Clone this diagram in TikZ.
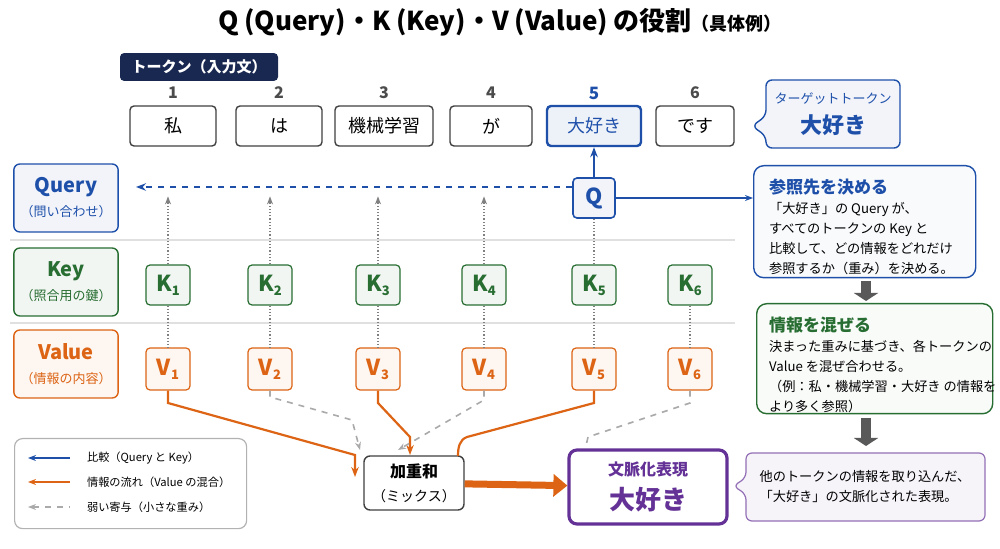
\documentclass[tikz,border=0pt]{standalone}
\usepackage{fontspec}
\setmainfont{Noto Sans CJK JP}
\usetikzlibrary{positioning,arrows.meta}
\definecolor{qblue}{RGB}{30,80,170}
\definecolor{kgreen}{RGB}{40,110,50}
\definecolor{vorange}{RGB}{220,100,20}
\definecolor{cpurple}{RGB}{100,50,150}
\definecolor{navy}{RGB}{25,40,80}
\definecolor{wgray}{RGB}{170,170,170}
\newcommand{\subn}[1]{\raisebox{-0.35ex}{\fontsize{6.5}{7}\selectfont #1}}
\tikzset{
  tok/.style={draw=black!75,line width=0.7pt,rounded corners=2pt,minimum height=20pt,font=\fontsize{9}{10}\selectfont,fill=white},
  lab/.style={rounded corners=3pt,line width=0.7pt,minimum width=52pt,minimum height=34pt,align=center},
  kbox/.style={draw=kgreen,fill=kgreen!6,rounded corners=2pt,line width=0.6pt,minimum width=22pt,minimum height=20pt,text=kgreen,font=\fontsize{11}{12}\selectfont\bfseries},
  vbox/.style={draw=vorange,fill=vorange!6,rounded corners=2pt,line width=0.6pt,minimum width=22pt,minimum height=21pt,text=vorange,font=\fontsize{11}{12}\selectfont\bfseries},
  dotl/.style={densely dotted,gray,line width=0.6pt},
  weak/.style={dashed,wgray,line width=0.8pt},
  flow/.style={vorange,line width=1.1pt},
  cmp/.style={qblue,line width=0.8pt},
  body/.style={align=left,font=\fontsize{6.6}{10}\selectfont,anchor=north west}
}
\begin{document}
\begin{tikzpicture}[x=0.5pt,y=-0.5pt]
\useasboundingbox (0,0) rectangle (1000,549);
% title
\node (title) at (500,22) {\fontsize{13}{15}\selectfont\bfseries Q (Query)・K (Key)・V (Value) の役割\fontsize{9}{10}\selectfont（具体例）};
\node[fill=navy,text=white,rounded corners=2pt,minimum width=79pt,minimum height=11pt,font=\fontsize{7.5}{8}\selectfont\bfseries] (toklab) at (199,67) {トークン（入力文）};
% tokens
\foreach \n/\x/\w/\t in {1/173/43/私,2/279/43/は,3/384/49/機械学習,4/491/41/が,6/695/39/です}{
  \node[tok,minimum width=\w pt] (t\n) at (\x,126) {\t};
  \node[font=\fontsize{8}{9}\selectfont\bfseries,text=black!70] (n\n) at (\x,93) {\n};
}
\node[tok,draw=qblue,line width=1.2pt,fill=qblue!8,minimum width=47pt,text=qblue] (t5) at (594,126) {大好き};
\node[font=\fontsize{8.5}{9}\selectfont\bfseries,text=qblue] (n5) at (594,93) {5};
% target callout
\draw[qblue,fill=qblue!6,line width=0.7pt,rounded corners=3pt] (766,80) -- (900,80) -- (900,148) -- (766,148) -- (766,136) -- (752,126) -- (766,116) -- cycle;
\node[align=center,text=qblue] (target) at (833,114) {{\fontsize{6.5}{8}\selectfont ターゲットトークン}\\[3pt]{\fontsize{11}{13}\selectfont\bfseries 大好き}};
% labels
\node[lab,draw=qblue,fill=qblue!6] (query) at (66,198) {{\fontsize{10}{12}\selectfont\bfseries\color{qblue}Query}\\{\fontsize{6.5}{8}\selectfont\color{qblue}（問い合わせ）}};
\node[lab,draw=kgreen,fill=kgreen!6] (key) at (66,282) {{\fontsize{10}{12}\selectfont\bfseries\color{kgreen}Key}\\{\fontsize{6.5}{8}\selectfont\color{kgreen}（照合用の鍵）}};
\node[lab,draw=vorange,fill=vorange!6] (value) at (66,364) {{\fontsize{10}{12}\selectfont\bfseries\color{vorange}Value}\\{\fontsize{6.5}{8}\selectfont\color{vorange}（情報の内容）}};
\draw[black!12,line width=0.6pt] (10,240) -- (735,240);
\draw[black!12,line width=0.6pt] (10,323) -- (735,323);
% Q
\node[draw=qblue,fill=qblue!6,rounded corners=2pt,line width=0.8pt,minimum width=21pt,minimum height=20pt,text=qblue,font=\fontsize{11}{12}\selectfont\bfseries] (q) at (594,198) {Q};
\coordinate (qend) at (136,187);
\draw[-{Stealth[length=5pt]},qblue,dashed,line width=0.7pt] (q.west|-qend) -- (qend);
\draw[-{Stealth[length=5pt]},qblue,line width=1pt] (q) -- (t5);
% K and V
\foreach \i/\x in {1/168,2/270,3/378,4/484,5/594,6/690}{
  \node[kbox] (k\i) at (\x,285) {K\subn{\i}};
  \node[vbox] (v\i) at (\x,369) {V\subn{\i}};
  \draw[dotl] (k\i) -- (v\i);
}
\foreach \i in {1,2,3,4}{
  \draw[dotl,-{Stealth[length=4pt]}] (k\i.north) -- ++(0,-68);
}
\draw[dotl] (k5) -- (q);
% right panels
\node[draw=qblue,fill=qblue!3,rounded corners=5pt,line width=0.7pt,minimum width=111pt,minimum height=56pt,anchor=north west] (ref) at (753,165) {};
\node[body] (reft) at (762,172) {{\fontsize{8.5}{11}\selectfont\bfseries\color{qblue}参照先を決める}\\「大好き」の Query が、\\すべてのトークンの Key と\\比較して、どの情報をどれだけ\\参照するか（重み）を決める。};
\draw[-{Stealth[length=4pt]},qblue,line width=1pt] (q) -- (q-|ref.west);
\node[draw=kgreen,fill=kgreen!3,rounded corners=5pt,line width=0.7pt,minimum width=118pt,minimum height=55pt,anchor=north west] (mix) at (756,303) {};
\node[body] (mixt) at (762,310) {{\fontsize{8.5}{11}\selectfont\bfseries\color{kgreen}情報を混ぜる}\\決まった重みに基づき、各トークンの\\Value を混ぜ合わせる。\\（例：私・機械学習・大好き の情報を\\より多く参照）};
\draw[-{Triangle[length=4pt,width=12pt]},black!65,line width=5pt] (866,281) -- (866,301);
\draw[-{Triangle[length=4pt,width=12pt]},black!65,line width=5pt] (866,418) -- (866,446);
% weighted sum
\node[draw=black!75,rounded corners=3pt,line width=0.7pt,minimum width=50pt,minimum height=27pt,align=center,fill=white] (sum) at (414,483) {{\fontsize{8}{10}\selectfont\bfseries 加重和}\\{\fontsize{7}{9}\selectfont（ミックス）}};
\draw[flow,-{Stealth[length=5pt]}] (v1) -- (168,403) -- (355,455) -- (355,477);
\draw[flow,-{Stealth[length=5pt]}] (v3) -- (378,403) -- (410,437) -- (410,455);
\draw[flow] (v5) -- (594,403) -- (467,437) to[out=-160,in=90] (458,456);
\draw[weak,-{Stealth[length=4pt]}] (v2.south) -- (270,397) -- (352,420) -- (360,450);
\draw[weak,-{Stealth[length=4pt]}] (v4.south) -- (484,400) -- (398,450);
\draw[weak] (v6.south) -- (690,403) -- (588,437) -- (586,446);
% context
\node[draw=cpurple,fill=white,rounded corners=4pt,line width=1.6pt,minimum width=79pt,minimum height=37pt,align=center,text=cpurple] (ctx) at (648,487) {{\fontsize{8}{10}\selectfont\bfseries 文脈化表現}\\[5pt]{\fontsize{13}{15}\selectfont\bfseries 大好き}};
\draw[-{Triangle[length=7pt,width=11pt]},vorange,line width=3.5pt] (sum) -- (ctx);
\draw[cpurple!70,fill=cpurple!6,line width=0.6pt,rounded corners=3pt] (746,453) -- (985,453) -- (985,521) -- (746,521) -- (746,494) -- (733,486) -- (746,478) -- cycle;
\node[align=left,font=\fontsize{6.6}{10}\selectfont] (ctxt) at (865,487) {他のトークンの情報を取り込んだ、\\「大好き」の文脈化された表現。};
% legend
\node[draw=black!30,rounded corners=4pt,line width=0.6pt,minimum width=116pt,minimum height=45pt,anchor=north west] (leg) at (14,438) {};
\foreach \y/\s/\t in {458/cmp/比較（Query と Key）,482/flow/情報の流れ（Value の混合）,507/weak/弱い寄与（小さな重み）}{
  \coordinate (la\y) at (28,\y);
  \coordinate (lb\y) at (70,\y);
  \draw[\s,{Stealth[length=4pt]}-] (la\y) -- (lb\y);
  \node[anchor=west,font=\fontsize{5.6}{7}\selectfont] (lt\y) at (80,\y) {\t};
}
\end{tikzpicture}
\end{document}
